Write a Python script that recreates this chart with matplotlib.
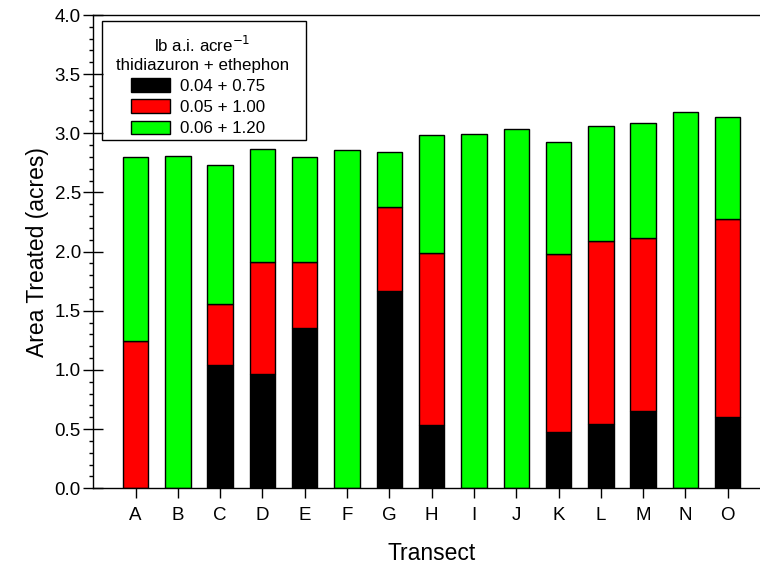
import matplotlib
matplotlib.use("Agg")
import matplotlib.pyplot as plt
import numpy as np
from matplotlib.ticker import MultipleLocator, FormatStrFormatter
from matplotlib.patches import Rectangle

plt.rcParams['font.family'] = ['Liberation Sans', 'DejaVu Sans']

transects = ['A', 'B', 'C', 'D', 'E', 'F', 'G', 'H', 'I', 'J', 'K', 'L', 'M', 'N', 'O']
# segment heights (acres)
low_rate = [0.00, 0.00, 1.04, 0.965, 1.355, 0.00, 1.67, 0.535, 0.00, 0.00, 0.48, 0.54, 0.65, 0.00, 0.60]
mid_rate = [1.245, 0.00, 0.515, 0.95, 0.555, 0.00, 0.71, 1.455, 0.00, 0.00, 1.50, 1.55, 1.465, 0.00, 1.68]
high_rate = [1.555, 2.805, 1.175, 0.955, 0.89, 2.855, 0.465, 0.995, 2.995, 3.035, 0.95, 0.97, 0.975, 3.18, 0.86]
series_labels = ['0.04 + 0.75', '0.05 + 1.00', '0.06 + 1.20']
colors = ['#000000', '#ff0000', '#00ff00']

W, H = 760, 569
fig = plt.figure(figsize=(W / 100, H / 100), dpi=100)
left, right, top, bottom = 93.3, 770.0, 15.0, 488.3
ax = fig.add_axes([left / W, 1 - bottom / H, (right - left) / W, (bottom - top) / H])

x = np.arange(1, len(transects) + 1)
bottoms = np.zeros(len(transects))
for vals, c, lab in zip([low_rate, mid_rate, high_rate], colors, series_labels):
    v = np.array(vals)
    ax.bar(x, v, width=0.6, bottom=bottoms, color=c, edgecolor='black', linewidth=1.0,
           label=lab + '  ')
    bottoms += v

ax.set_xlim(0, 16)
ax.set_ylim(0, 4.0)
ax.set_xticks(x)
ax.set_xticklabels(transects)
ax.yaxis.set_major_locator(MultipleLocator(0.5))
ax.yaxis.set_minor_locator(MultipleLocator(0.1))
ax.yaxis.set_major_formatter(FormatStrFormatter('%.1f'))
ax.tick_params(axis='y', which='major', direction='inout', length=14, width=1, labelsize=13.5, pad=2)
ax.tick_params(axis='y', which='minor', direction='out', length=3, width=1)
ax.tick_params(axis='x', which='major', direction='out', length=7, width=1, labelsize=13.5, pad=6.5)
for s in ax.spines.values():
    s.set_linewidth(1.0)

ax.set_ylabel('Area Treated (acres)', fontsize=16.5, labelpad=4)
ax.set_xlabel('Transect', fontsize=16.5, labelpad=13)

# legend content (frame drawn separately)
lx0, lx1, ly0, ly1 = 101.7, 306.0, 20.7, 140.0
leg = ax.legend(title='lb a.i. acre$^{-1}$\nthidiazuron + ethephon', loc='upper left',
                bbox_to_anchor=((lx0 - left) / (right - left), 1 - (ly0 - top) / (bottom - top)),
                fontsize=12.2, title_fontsize=12.2, frameon=False,
                handlelength=2.3, handleheight=0.85, borderpad=0.85,
                labelspacing=0.33, handletextpad=0.6, borderaxespad=0, alignment='center')
leg.get_title().set_multialignment('center')
for h in leg.legend_handles:
    h.set_edgecolor('black')
    h.set_linewidth(1.0)
fig.patches.append(Rectangle((lx0 / W, 1 - ly1 / H), (lx1 - lx0) / W, (ly1 - ly0) / H,
                             transform=fig.transFigure, facecolor='none', edgecolor='black',
                             linewidth=1.0, zorder=10))

fig.savefig('out.png', dpi=100)
